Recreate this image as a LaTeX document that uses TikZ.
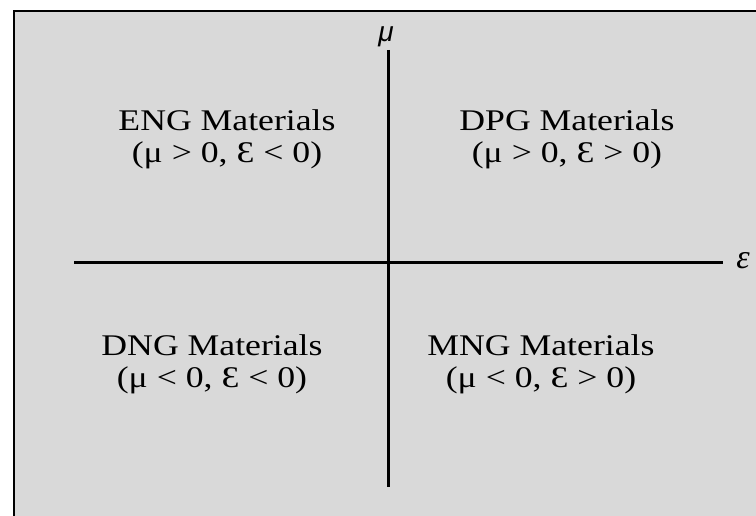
\documentclass[tikz,border=0pt]{standalone}
\usepackage{fontspec}
\setmainfont{Liberation Serif}
\newfontfamily\matfont[FakeStretch=1.19]{Liberation Serif}
\newfontfamily\musans{Liberation Sans}
\usetikzlibrary{positioning}
\definecolor{cPanel}{HTML}{D9D9D9}
\tikzset{
  panel/.style={fill=cPanel,draw=black,line width=2.5pt},
  axisline/.style={draw=black,line width=3pt},
  quad/.style={align=center,inner sep=0pt,font=\matfont\fontsize{30}{32}\selectfont},
  axlbl/.style={inner sep=0pt}}
\begin{document}
\begin{tikzpicture}[x=1pt,y=-1pt]
\useasboundingbox (0,0) rectangle (756,516);
\clip (0,0) rectangle (756,516);
\draw[panel] (14,11) rectangle (770,530);
% axes
\coordinate (ytop) at (388,50); \coordinate (ybot) at (388,487);
\coordinate (xlft) at (74,263); \coordinate (xrgt) at (723,263);
\draw[axisline] (ytop)--(ybot);
\draw[axisline] (xlft)--(xrgt);
\node[axlbl, font=\musans\itshape\fontsize{28}{28}\selectfont] (mu) at (386,37) {μ};
\node[axlbl, font=\itshape\fontsize{34}{34}\selectfont] (eps) at (743,261) {ε};
% quadrants
\node[quad] (eng) at (227,139) {ENG Materials\\ (μ > 0, Ɛ < 0)};
\node[quad] (dpg) at (567,139) {DPG Materials\\ (μ > 0, Ɛ > 0)};
\node[quad] (dng) at (212,364) {DNG Materials\\ (μ < 0, Ɛ < 0)};
\node[quad] (mng) at (541,364) {MNG Materials\\ (μ < 0, Ɛ > 0)};
\end{tikzpicture}
\end{document}
